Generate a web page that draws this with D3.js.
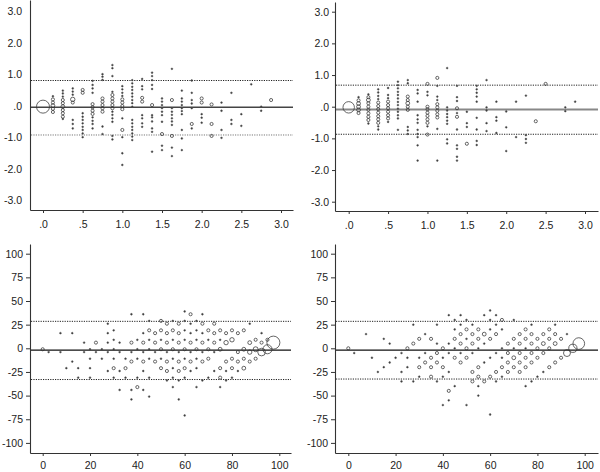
<!DOCTYPE html>
<html><head><meta charset="utf-8">
<script src="https://cdn.jsdelivr.net/npm/d3@7"></script>
<style>
body{margin:0;background:#fff}
svg{display:block}
text{font-family:Arial,"Liberation Sans",sans-serif;font-size:10.5px;fill:#222}
</style>
</head><body>
<svg id="c" width="600" height="472"></svg>
<script>
// ---------- tick values / labels ----------
const topYTicks = [-3, -2, -1, 0, 1, 2, 3];
const topYLabels = ["-3.0", "-2.0", "-1.0", ".0", "1.0", "2.0", "3.0"];
const topXTicks = [0, 0.5, 1, 1.5, 2, 2.5, 3];
const topXLabels = [".0", ".5", "1.0", "1.5", "2.0", "2.5", "3.0"];
const botYTicks = [-100, -75, -50, -25, 0, 25, 50, 75, 100];
const botXTicks = [0, 20, 40, 60, 80, 100];

// ---------- reference lines: [mean, upper limit, lower limit] ----------
const p1Lines = [-0.05, 0.80, -0.93];
const p2Lines = [-0.09, 0.68, -0.87];
const p3Lines = [-2, 28.5, -33];
const p4Lines = [-2, 28.5, -32.5];

// ---------- points: [mean, difference, count] ----------
const p1Points = [
[0,-0.03,35],
[0.125,0.3,1],[0.125,0.2,2],[0.125,0.1,2],[0.125,0,3],[0.125,-0.1,2],[0.125,-0.2,2],
[0.25,0.48,1],[0.25,0.39,1],[0.25,0.29,1],[0.25,0.18,2],[0.25,0.08,2],[0.25,-0.03,3],[0.25,-0.14,2],[0.25,-0.24,2],[0.25,-0.35,2],[0.25,-0.42,1],
[0.375,0.55,1],[0.375,0.45,1],[0.375,0.35,1],[0.375,0.2,4],[0.375,0.1,2],[0.375,-0.45,1],[0.375,-0.58,1],[0.375,-0.72,1],
[0.5,0.5,2],[0.5,0.41,2],[0.5,-0.24,1],[0.5,-0.35,1],[0.5,-0.45,1],[0.5,-0.56,1],[0.5,-0.67,1],[0.5,-0.77,1],[0.5,-0.88,1],[0.5,-1.0,1],
[0.625,0.79,1],[0.625,0.66,1],[0.625,0.55,1],[0.625,0.41,1],[0.625,0.05,2],[0.625,-0.05,2],[0.625,-0.16,2],[0.625,-0.26,2],[0.625,-0.37,1],[0.625,-0.48,1],[0.625,-0.58,1],[0.625,-0.72,1],
[0.75,1.0,1],[0.75,0.92,1],[0.75,0.82,1],[0.75,0.23,2],[0.75,0.13,2],[0.75,0.02,2],[0.75,-0.08,2],[0.75,-0.19,2],[0.75,-0.66,1],[0.75,-0.9,1],
[0.875,1.29,1],[0.875,1.19,1],[0.875,0.94,1],[0.875,0.44,1],[0.875,0.34,2],[0.875,0.23,2],[0.875,0.13,2],[0.875,0.02,2],[0.875,-0.08,2],[0.875,-0.19,1],[0.875,-0.29,1],[0.875,-0.4,1],[0.875,-0.51,1],[0.875,-0.96,1],[0.875,-1.07,1],
[1,0.62,1],[1,0.52,1],[1,0.41,1],[1,0.31,1],[1,0.2,2],[1,0.1,2],[1,-0.01,2],[1,-0.11,2],[1,-0.4,1],[1,-0.77,2],[1,-1.0,1],[1,-1.51,1],[1,-1.88,1],
[1.125,0.81,1],[1.125,0.71,1],[1.125,0.6,1],[1.125,0.5,1],[1.125,0.39,1],[1.125,0.29,1],[1.125,0.18,1],[1.125,0.08,1],[1.125,-0.03,1],[1.125,-0.45,1],[1.125,-0.56,1],[1.125,-0.67,1],[1.125,-0.77,1],[1.125,-0.88,1],[1.125,-0.98,1],[1.125,-1.09,1],
[1.25,0.85,1],[1.25,0.62,1],[1.25,0.52,1],[1.25,0.25,2],[1.25,0.13,2],[1.25,-0.3,1],[1.25,-0.4,1],[1.25,-0.56,1],[1.25,-0.67,1],
[1.375,1.05,1],[1.375,0.94,1],[1.375,0.81,1],[1.375,0.66,1],[1.375,0.53,1],[1.375,0.02,2],[1.375,-0.3,1],[1.375,-0.37,1],[1.375,-0.5,1],[1.375,-0.72,1],[1.375,-0.83,1],[1.375,-1.46,1],
[1.5,0.23,1],[1.5,0.13,1],[1.5,0.02,1],[1.5,-0.08,1],[1.5,-0.19,1],[1.5,-0.3,1],[1.5,-0.51,1],[1.5,-0.9,2],[1.5,-1.27,1],[1.5,-1.41,1],
[1.625,1.17,1],[1.625,0.18,2],[1.625,-0.08,1],[1.625,-0.19,1],[1.625,-0.29,1],[1.625,-0.4,1],[1.625,-0.5,1],[1.625,-0.61,1],[1.625,-0.96,2],[1.625,-1.33,1],[1.625,-1.6,1],
[1.75,0.48,1],[1.75,0.23,1],[1.75,0.13,1],[1.75,0.02,1],[1.75,-0.08,1],[1.75,-0.17,1],[1.75,-0.27,1],[1.75,-0.77,1],[1.75,-1.04,1],[1.75,-1.41,1],
[1.875,0.8,1],[1.875,0.41,1],[1.875,0.18,1],[1.875,0.07,1],[1.875,-0.08,1],[1.875,-0.58,2],[1.875,-0.72,1],
[2,0.23,2],[2,0.1,2],[2,-0.27,1],[2,-0.38,1],[2,-0.54,1],
[2.125,0.04,2],[2.125,-0.58,2],[2.125,-0.96,2],
[2.25,0.1,1],[2.25,-0.16,1],[2.25,-0.77,1],[2.25,-1.02,1],
[2.375,0.41,1],[2.375,-0.45,1],[2.375,-0.58,1],
[2.5,-0.27,1],[2.5,-0.64,1],
[2.625,0.68,1],
[2.75,-0.03,1],[2.75,-0.16,1],
[2.875,0.18,2]
];

const p2Points = [
[0,-0.02,27],
[0.125,0.3,1],[0.125,0.2,2],[0.125,0.1,3],[0.125,0,3],[0.125,-0.1,3],[0.125,-0.2,2],
[0.25,0.39,1],[0.25,0.3,2],[0.25,0.21,3],[0.25,0.11,2],[0.25,0,2],[0.25,-0.1,2],[0.25,-0.21,2],[0.25,-0.32,2],[0.25,-0.42,2],[0.25,-0.53,1],
[0.375,0.55,1],[0.375,0.45,1],[0.375,0.34,1],[0.375,0.24,1],[0.375,0.13,2],[0.375,0.02,2],[0.375,-0.08,2],[0.375,-0.19,2],[0.375,-0.3,2],[0.375,-0.4,2],[0.375,-0.51,2],[0.375,-0.62,1],[0.375,-0.72,1],
[0.5,0.59,1],[0.5,0.37,1],[0.5,0.27,1],[0.5,0.16,2],[0.5,0.05,2],[0.5,-0.05,2],[0.5,-0.16,2],[0.5,-0.27,2],[0.5,-0.37,2],[0.5,-0.48,1],
[0.625,0.79,1],[0.625,0.68,1],[0.625,0.58,1],[0.625,0.47,1],[0.625,0.37,1],[0.625,0.26,1],[0.625,0.15,1],[0.625,0.05,1],[0.625,-0.06,1],[0.625,-0.16,1],[0.625,-0.27,1],[0.625,-0.37,1],[0.625,-0.73,1],
[0.75,0.84,1],[0.75,0.74,1],[0.75,0.32,2],[0.75,0.21,2],[0.75,0.11,3],[0.75,0,2],[0.75,-0.1,2],[0.75,-0.64,1],[0.75,-0.75,1],[0.75,-0.86,1],
[0.875,0.53,1],[0.875,0.42,1],[0.875,0.16,1],[0.875,-0.27,1],[0.875,-0.4,1],[0.875,-0.51,1],[0.875,-0.73,1],[0.875,-0.86,1],[0.875,-0.96,1],[0.875,-1.22,1],[0.875,-1.7,1],
[1,0.72,2],[1,0.47,1],[1,0.36,1],[1,0,2],[1,-0.08,2],[1,-0.19,2],[1,-0.29,2],[1,-0.4,2],[1,-0.51,2],[1,-0.62,1],[1,-0.88,2],
[1.125,0.91,2],[1.125,0.66,1],[1.125,0.32,1],[1.125,0.21,1],[1.125,0.08,2],[1.125,-0.02,2],[1.125,-0.13,2],[1.125,-0.24,2],[1.125,-0.34,2],[1.125,-0.7,1],[1.125,-1.7,1],
[1.25,1.22,1],[1.25,-0.02,1],[1.25,-0.12,1],[1.25,-0.23,1],[1.25,-0.33,1],[1.25,-0.44,1],[1.25,-0.54,1],[1.25,-1.03,1],[1.25,-1.16,1],
[1.375,0.66,1],[1.375,0.3,1],[1.375,0.18,1],[1.375,-0.05,2],[1.375,-0.2,1],[1.375,-0.32,2],[1.375,-0.72,1],[1.375,-1.22,1],[1.375,-1.33,1],[1.375,-1.58,1],[1.375,-1.7,1],
[1.5,-0.16,1],[1.5,-0.52,1],[1.5,-0.64,1],[1.5,-1.17,2],
[1.625,0.66,1],[1.625,0.55,1],[1.625,0.44,1],[1.625,0.32,1],[1.625,0.16,1],[1.625,-0.35,1],[1.625,-0.72,1],[1.625,-1.08,1],[1.625,-1.21,1],
[1.75,0.84,1],[1.75,-0.02,1],[1.75,-0.12,1],[1.75,-0.52,1],[1.75,-0.77,1],
[1.875,0.16,1],[1.875,-0.33,1],[1.875,-0.44,1],[1.875,-0.83,1],
[2,-0.15,1],[2,-0.65,1],[2,-1.4,1],
[2.125,0.16,1],[2.125,-0.96,1],
[2.25,0.35,1],[2.25,-0.9,1],[2.25,-1.02,1],[2.25,-1.14,1],
[2.375,-0.46,2],
[2.5,0.72,2],
[2.75,-0.02,1],[2.75,-0.14,1],
[2.875,0.16,1]
];

const p3Points = [
[60,39,1],
[37.5,36,1],[42.5,36,1],[62.5,36,2],[67.5,36,1],
[45,29,1],[50,29,2],[55,29,1],[60,29,1],[65,29,1],
[27.5,26,1],[52.5,26,2],[57.5,26,2],[62.5,26,1],[67.5,26,2],[72.5,26,2],[87.5,26,1],
[30,19,1],[45,19,2],[50,19,2],[55,19,2],[60,19,1],[65,19,1],[70,19,2],[75,19,2],[80,19,2],[85,19,2],
[7.5,16,1],[12.5,16,1],[27.5,16,1],[42.5,16,1],[47.5,16,2],[52.5,16,2],[57.5,16,2],[62.5,16,1],[67.5,16,1],[72.5,16,2],[77.5,16,2],[82.5,16,2],[92.5,16,1],
[30,9,1],[40,9,1],[45,9,1],[50,9,1],[55,9,1],[60,9,1],[65,9,1],[70,9,1],[75,9,1],[80,9,4],[90,9,2],[95,9,2],
[17.5,6,1],[22.5,6,2],[27.5,6,1],[32.5,6,1],[37.5,6,2],[42.5,6,2],[47.5,6,2],[52.5,6,2],[57.5,6,2],[62.5,6,2],[67.5,6,2],[72.5,6,2],[77.5,6,4],[87.5,6,3],[92.5,6,2],[97.5,6,35],
[0,-1,2],[20,-1,1],[25,-1,1],[30,-1,1],[40,-1,1],[45,-1,1],[50,-1,2],[55,-1,2],[60,-1,2],[65,-1,2],[70,-1,2],[75,-1,3],[85,-1,3],[90,-1,5],[95,-1,17],
[2.5,-4,1],[7.5,-4,1],[17.5,-4,1],[22.5,-4,1],[27.5,-4,1],[32.5,-4,1],[37.5,-4,1],[42.5,-4,1],[47.5,-4,1],[52.5,-4,1],[57.5,-4,1],[62.5,-4,1],[67.5,-4,1],[72.5,-4,1],[82.5,-4,2],[87.5,-4,4],[92.5,-4,12],
[20,-11,1],[25,-11,1],[30,-11,1],[35,-11,1],[40,-11,1],[45,-11,1],[50,-11,1],[55,-11,1],[60,-11,1],[65,-11,1],[70,-11,2],[80,-11,2],[85,-11,2],[90,-11,2],
[12.5,-14,1],[37.5,-14,2],[42.5,-14,2],[47.5,-14,2],[52.5,-14,2],[57.5,-14,2],[62.5,-14,2],[67.5,-14,2],[77.5,-14,2],[82.5,-14,2],[87.5,-14,2],
[10,-21,1],[15,-21,1],[20,-21,1],[30,-21,2],[35,-21,2],[50,-21,2],[55,-21,1],[60,-21,2],[65,-21,1],[75,-21,2],[80,-21,2],[85,-21,3],
[27.5,-24,1],[32.5,-24,1],[42.5,-24,1],[52.5,-24,2],[57.5,-24,2],[62.5,-24,1],[72.5,-24,1],[77.5,-24,1],[82.5,-24,1],
[15,-31,1],[20,-31,1],[30,-31,1],[35,-31,1],[40,-31,1],[45,-31,1],[55,-31,1],[60,-31,1],[70,-31,1],[75,-31,2],[80,-31,1],
[52.5,-34,1],[57.5,-34,1],[67.5,-34,1],[77.5,-34,1],
[40,-41,2],[55,-41,1],[65,-41,1],[75,-41,1],
[32.5,-44,1],[37.5,-44,1],[42.5,-44,1],
[45,-51,1],
[37.5,-54,1],[57.5,-54,1],
[60,-71,1]
];

const p4Points = [
[0,0,2],[2.5,-5,1],[7.5,15,1],[10,-10,1],[12.5,-25,1],
[15,10,1],[15,-20,1],[17.5,5,1],[17.5,-15,1],[20,-10,1],
[22.5,-5,1],[22.5,-25,1],[22.5,-35,1],
[25,0,2],[25,-10,1],[25,-20,1],
[27.5,25,1],[27.5,5,2],[27.5,-35,1],
[30,10,2],[30,-10,1],[30,-20,2],[30,-30,1],
[32.5,15,1],[32.5,-5,1],[32.5,-15,2],
[35,10,2],[35,-10,2],[35,-20,2],[35,-30,2],
[37.5,25,1],[37.5,5,1],[37.5,-5,2],[37.5,-15,2],[37.5,-35,1],
[40,0,2],[40,-10,1],[40,-20,2],[40,-30,1],[40,-60,1],
[42.5,35,1],[42.5,5,1],[42.5,-5,1],[42.5,-25,1],[42.5,-45,2],[42.5,-55,1],
[45,30,1],[45,20,1],[45,10,2],[45,0,1],[45,-10,2],[45,-40,1],
[47.5,35,1],[47.5,25,1],[47.5,15,2],[47.5,5,2],[47.5,-5,1],[47.5,-15,2],
[50,30,1],[50,20,2],[50,10,1],[50,0,2],[50,-10,2],[50,-60,1],
[52.5,25,1],[52.5,15,2],[52.5,5,2],[52.5,-5,1],[52.5,-25,2],[52.5,-35,2],
[55,20,2],[55,10,2],[55,0,1],[55,-20,2],[55,-30,2],[55,-40,1],[55,-50,1],
[57.5,35,1],[57.5,15,3],[57.5,5,1],[57.5,-15,1],[57.5,-35,2],
[60,40,1],[60,30,1],[60,20,1],[60,10,2],[60,-10,1],[60,-30,2],[60,-70,1],
[62.5,35,1],[62.5,25,1],[62.5,15,2],[62.5,-5,1],[62.5,-25,2],[62.5,-35,1],
[65,30,2],[65,20,1],[65,0,1],[65,-10,1],[65,-20,2],[65,-30,1],
[67.5,5,2],[67.5,-5,2],[67.5,-15,2],[67.5,-25,2],
[70,30,1],[70,10,2],[70,0,1],[70,-10,3],[70,-20,2],
[72.5,15,2],[72.5,5,2],[72.5,-5,2],[72.5,-15,2],[72.5,-25,2],
[75,20,2],[75,10,2],[75,0,1],[75,-10,2],[75,-20,2],[75,-40,1],
[77.5,25,1],[77.5,15,2],[77.5,5,2],[77.5,-5,2],[77.5,-15,2],[77.5,-35,1],
[80,10,2],[80,0,2],[80,-10,2],[80,-30,1],
[82.5,15,2],[82.5,5,3],[82.5,-5,2],[82.5,-25,1],
[85,20,2],[85,10,2],[85,0,2],[85,-20,2],
[87.5,25,1],[87.5,15,2],[87.5,5,3],[87.5,-15,2],
[90,10,2],[90,-10,2],
[92.5,15,1],[92.5,-5,10],
[95,0,14],
[97.5,5,28]
];

// ---------- layout (pixel calibration of each panel) ----------
const panels = [
  {pts:p1Points, lines:p1Lines, xCal:[0,3,43,281], yCal:[0,3,105.7,11.2], xExt:[30,293], yExt:[210,0],
   yTicks:topYTicks, yLabels:topYLabels, xTicks:topXTicks, xLabels:topXLabels, yTick:0, yPad:8, xTick:3, xPad:8,
   meanColor:"#444", meanWidth:1.4, lowerColor:"#777"},
  {pts:p2Points, lines:p2Lines, xCal:[0,3,348.7,585], yCal:[0,3,106.7,11.7], xExt:[335,598], yExt:[211,2],
   yTicks:topYTicks, yLabels:topYLabels, xTicks:topXTicks, xLabels:topXLabels, yTick:3, yPad:3, xTick:3, xPad:8,
   meanColor:"#888", meanWidth:2, lowerColor:"#222"},
  {pts:p3Points, lines:p3Lines, xCal:[0,100,42.7,279.3], yCal:[0,100,348.3,253.7], xExt:[30,291], yExt:[453,244],
   yTicks:botYTicks, yLabels:botYTicks.map(String), xTicks:botXTicks, xLabels:botXTicks.map(String), yTick:4, yPad:3, xTick:3, xPad:6,
   meanColor:"#111", meanWidth:1.3, lowerColor:"#222"},
  {pts:p4Points, lines:p4Lines, xCal:[0,100,348.3,584.7], yCal:[0,100,348.3,253.7], xExt:[335,598], yExt:[453,244],
   yTicks:botYTicks, yLabels:botYTicks.map(String), xTicks:botXTicks, xLabels:botXTicks.map(String), yTick:4, yPad:3, xTick:3, xPad:6,
   meanColor:"#111", meanWidth:1.3, lowerColor:"#222"}
];

const svg = d3.select("#c");
const rScale = d3.scaleSqrt().domain([0, 1]).range([0, 1.1]);

panels.forEach(p => {
  const xc = d3.scaleLinear().domain([p.xCal[0], p.xCal[1]]).range([p.xCal[2], p.xCal[3]]);
  const yc = d3.scaleLinear().domain([p.yCal[0], p.yCal[1]]).range([p.yCal[2], p.yCal[3]]);
  const x = d3.scaleLinear().domain([xc.invert(p.xExt[0]), xc.invert(p.xExt[1])]).range(p.xExt);
  const y = d3.scaleLinear().domain([yc.invert(p.yExt[0]), yc.invert(p.yExt[1])]).range(p.yExt);
  const g = svg.append("g");

  // reference lines
  const [mean, upper, lower] = p.lines;
  const x0 = p.xExt[0] + 1, x1 = p.xExt[1];
  g.append("line").attr("x1", x0).attr("x2", x1).attr("y1", y(upper)).attr("y2", y(upper))
    .attr("stroke", "#222").attr("stroke-width", 1).attr("stroke-dasharray", "1.2,1.2");
  g.append("line").attr("x1", x0).attr("x2", x1).attr("y1", y(lower)).attr("y2", y(lower))
    .attr("stroke", p.lowerColor).attr("stroke-width", 1).attr("stroke-dasharray", "1.2,1.2");
  g.append("line").attr("x1", x0).attr("x2", x1).attr("y1", y(mean)).attr("y2", y(mean))
    .attr("stroke", p.meanColor).attr("stroke-width", p.meanWidth);

  // points (single observations as small dots, coincident ones as open circles)
  g.append("g").selectAll("circle").data(p.pts).join("circle")
    .attr("cx", d => x(d[0])).attr("cy", d => y(d[1]))
    .attr("r", d => d[2] === 1 ? 0.9 : rScale(d[2]))
    .attr("fill", d => d[2] === 1 ? "#3a3a3a" : "none")
    .attr("stroke", d => d[2] === 1 ? "#555" : "#333")
    .attr("stroke-width", d => d[2] === 1 ? 0.5 : 0.75);

  // axes
  const yAxis = d3.axisLeft(y).tickValues(p.yTicks)
    .tickFormat((d, i) => p.yLabels[i]).tickSize(p.yTick).tickSizeOuter(0).tickPadding(p.yPad);
  const xAxis = d3.axisBottom(x).tickValues(p.xTicks)
    .tickFormat((d, i) => p.xLabels[i]).tickSize(p.xTick).tickSizeOuter(0).tickPadding(p.xPad);
  const ya = g.append("g").attr("transform", `translate(${p.xExt[0]},0)`).call(yAxis);
  const xa = g.append("g").attr("transform", `translate(0,${p.yExt[0]})`).call(xAxis);
  [ya, xa].forEach(a => {
    a.select(".domain").attr("stroke", "#333").attr("stroke-width", 1.1);
    a.selectAll(".tick line").attr("stroke", "#333");
    a.selectAll("text").attr("fill", "#222").style("font-size", "10.5px")
      .style("font-family", "Arial, 'Liberation Sans', sans-serif");
  });
});
</script>
</body></html>
